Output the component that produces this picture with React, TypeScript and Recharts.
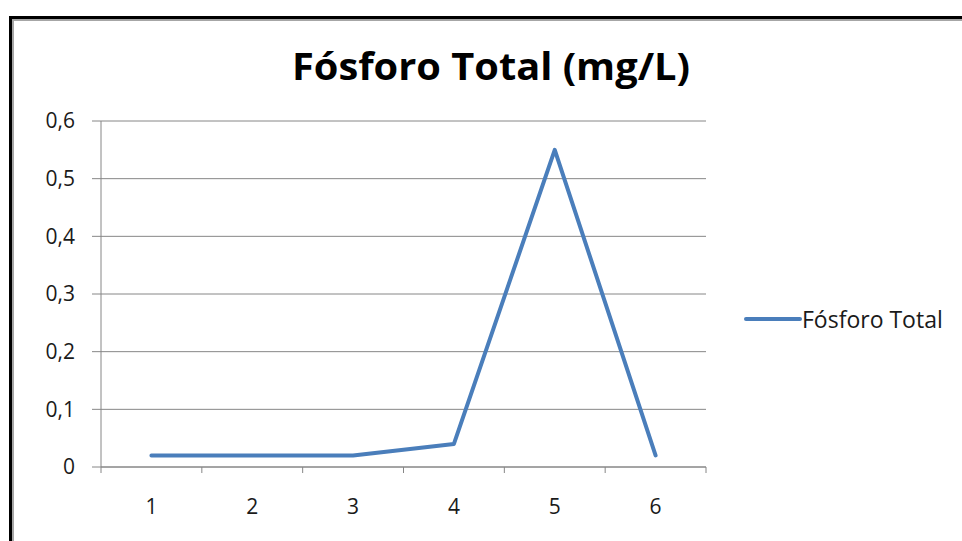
import React from 'react';
import { LineChart, Line, XAxis, YAxis, CartesianGrid, Legend } from 'recharts';

// Sample points and measured total phosphorus
const samples = [1, 2, 3, 4, 5, 6];
const phosphorus = [0.02, 0.02, 0.02, 0.04, 0.55, 0.02];
const yTicks = [0, 0.1, 0.2, 0.3, 0.4, 0.5, 0.6];
// labels sit on whole samples, tick marks on the boundaries between them
const xTicks = [0.5, 1, 1.5, 2, 2.5, 3, 3.5, 4, 4.5, 5, 5.5, 6, 6.5];

const seriesName = 'Fósforo Total';
const title = 'Fósforo Total (mg/L)';

const data = samples.map((s, i) => ({ sample: s, value: phosphorus[i] }));

const FONT = "'Open Sans', 'Noto Sans', sans-serif";
const AXIS_GRAY = '#868686';
const LINE_BLUE = '#4a7ebb';
const TEXT = '#1a1a1a';

const XTick = (props: any) => {
  const { x, y, payload } = props;
  const v = payload.value;
  if (Number.isInteger(v)) {
    return (
      <text x={x} y={y + 39} textAnchor="middle" fontFamily={FONT} fontSize={21} fill={TEXT}>
        {v}
      </text>
    );
  }
  // boundary tick mark hanging below the axis line
  return <line x1={x} x2={x} y1={y - 8} y2={y - 2} stroke={AXIS_GRAY} strokeWidth={1} />;
};

const LegendContent = () => (
  <div style={{ display: 'flex', alignItems: 'center', fontFamily: FONT, fontSize: 23, color: TEXT, whiteSpace: 'nowrap' }}>
    <svg width={58} height={8}>
      <line x1={2} x2={56} y1={4} y2={4} stroke={LINE_BLUE} strokeWidth={4} strokeLinecap="round" />
    </svg>
    <span style={{ marginLeft: 0 }}>{seriesName}</span>
  </div>
);

export default function App() {
  return (
    <div style={{ position: 'absolute', left: 0, top: 0, width: 962, height: 541, background: '#fff', overflow: 'hidden' }}>
      <div
        style={{
          position: 'absolute',
          left: 9,
          top: 16,
          width: 990,
          height: 600,
          borderTop: '3px solid #000',
          borderLeft: '3px solid #000',
          boxSizing: 'border-box',
        }}
      >
        <div
          style={{
            position: 'absolute',
            left: 0,
            top: 0,
            right: 0,
            bottom: 0,
            borderTop: '2px solid #a6a6a6',
            borderLeft: '2px solid #a6a6a6',
          }}
        />
      </div>
      <svg style={{ position: 'absolute', left: 0, top: 0 }} width={962} height={120}>
        <text
          x={491}
          y={80}
          textAnchor="middle"
          fontFamily={FONT}
          fontWeight={700}
          fontSize={37}
          fill="#000"
          textLength={398}
          lengthAdjust="spacingAndGlyphs"
        >
          {title}
        </text>
      </svg>
      <div style={{ position: 'absolute', left: 0, top: 0 }}>
        <LineChart width={962} height={541} data={data} margin={{ top: 121, right: 256, bottom: 34, left: 41 }}>
          <CartesianGrid vertical={false} stroke={AXIS_GRAY} strokeWidth={1} />
          <XAxis
            dataKey="sample"
            type="number"
            domain={[0.5, 6.5]}
            ticks={xTicks}
            interval={0}
            height={40}
            tickLine={false}
            axisLine={{ stroke: AXIS_GRAY }}
            tick={<XTick />}
          />
          <YAxis
            domain={[0, 0.6]}
            ticks={yTicks}
            width={60}
            tickSize={9}
            tickMargin={17}
            axisLine={{ stroke: AXIS_GRAY }}
            tickLine={{ stroke: AXIS_GRAY }}
            tickFormatter={(v: number) => String(v).replace('.', ',')}
            tick={{ fontFamily: FONT, fontSize: 21, fill: TEXT }}
          />
          <Legend
            layout="vertical"
            align="center"
            verticalAlign="middle"
            content={<LegendContent />}
            wrapperStyle={{ left: 744, top: 303, width: 'auto' }}
          />
          <Line
            type="linear"
            dataKey="value"
            name={seriesName}
            stroke={LINE_BLUE}
            strokeWidth={4}
            strokeLinecap="round"
            strokeLinejoin="round"
            dot={false}
            isAnimationActive={false}
          />
        </LineChart>
      </div>
    </div>
  );
}
